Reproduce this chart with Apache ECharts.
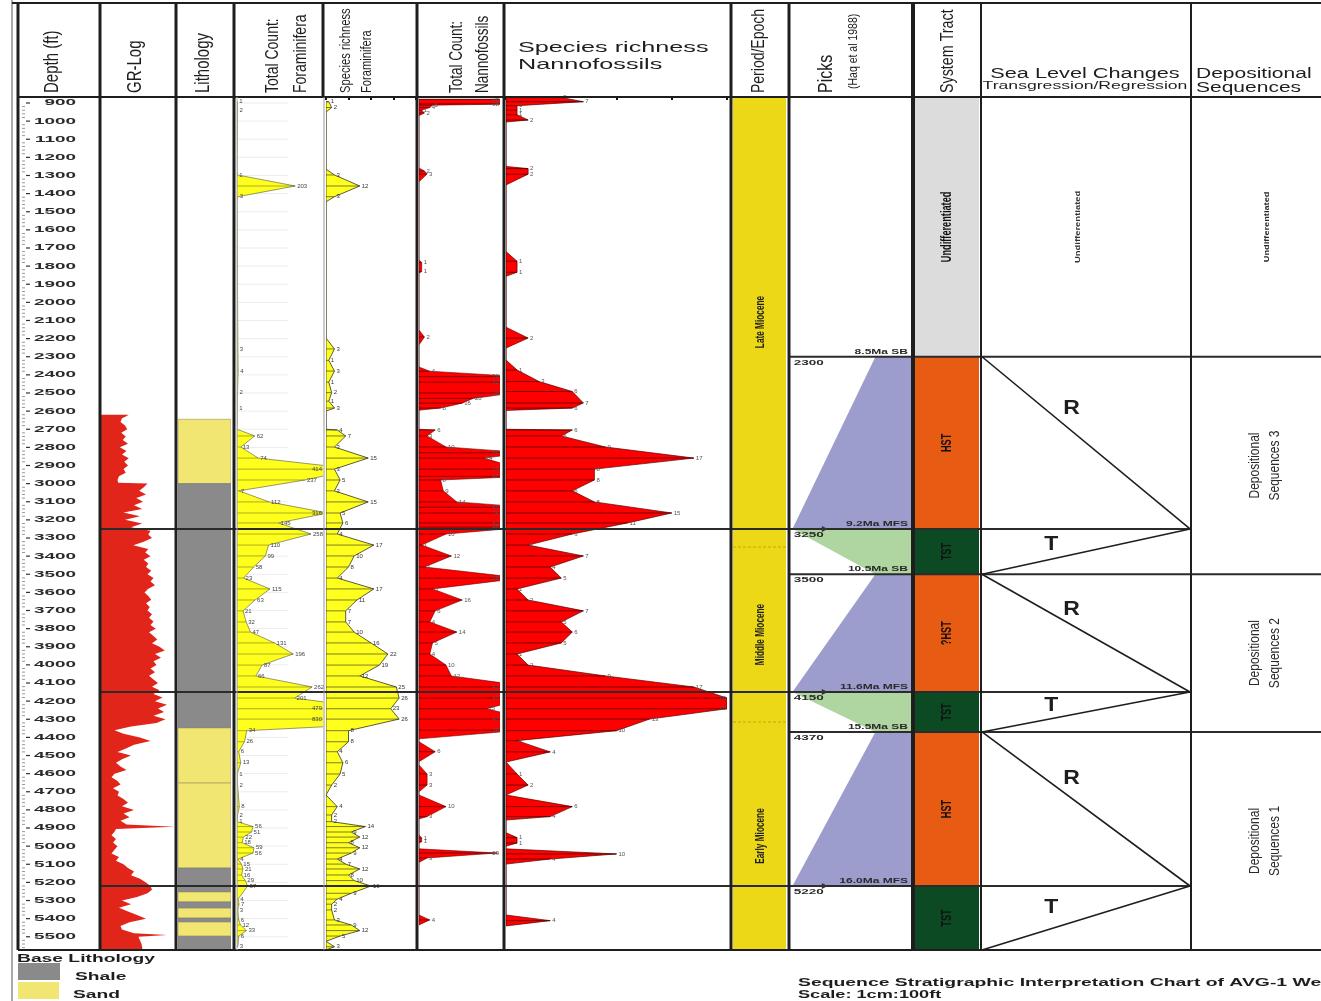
<!DOCTYPE html>
<html>
<head>
<meta charset="utf-8">
<title>Sequence Stratigraphic Interpretation Chart of AVG-1 Well</title>
<script src="https://cdn.jsdelivr.net/npm/echarts@6/dist/echarts.min.js"></script>
<style>
  html, body { margin: 0; padding: 0; background: #ffffff; }
  #chart { width: 1321px; height: 1001px; }
</style>
</head>
<body>
<div id="chart"></div>
<script>
// ---------------- well data (depths in ft) ----------------
const depthTicks = [900, 1000, 1100, 1200, 1300, 1400, 1500, 1600, 1700, 1800, 1900, 2000,
  2100, 2200, 2300, 2400, 2500, 2600, 2700, 2800, 2900, 3000, 3100, 3200, 3300, 3400, 3500,
  3600, 3700, 3800, 3900, 4000, 4100, 4200, 4300, 4400, 4500, 4600, 4700, 4800, 4900, 5000,
  5100, 5200, 5300, 5400, 5500];

// gamma-ray log (relative API units, 0-100 across the track)
const grDepth = [
  2620, 2630, 2640, 2660, 2680, 2700, 2720, 2740, 2760, 2780,
  2800, 2820, 2840, 2860, 2880, 2900, 2920, 2940, 2960, 2980,
  2995, 3000, 3020, 3040, 3060, 3080, 3100, 3120, 3140, 3160,
  3180, 3200, 3220, 3240, 3260, 3280, 3300, 3320, 3340, 3360,
  3380, 3400, 3420, 3440, 3460, 3480, 3500, 3520, 3540, 3560,
  3580, 3600, 3620, 3640, 3660, 3680, 3700, 3720, 3740, 3760,
  3780, 3800, 3820, 3840, 3860, 3880, 3900, 3920, 3940, 3960,
  3980, 4000, 4020, 4040, 4060, 4080, 4100, 4120, 4140, 4160,
  4180, 4200, 4220, 4240, 4260, 4280, 4300, 4320, 4340, 4360,
  4380, 4400, 4420, 4440, 4460, 4480, 4500, 4520, 4540, 4560,
  4580, 4600, 4620, 4640, 4660, 4680, 4700, 4720, 4740, 4760,
  4780, 4800, 4820, 4840, 4860, 4880, 4893, 4905, 4920, 4940,
  4960, 4980, 5000, 5020, 5040, 5060, 5080, 5100, 5120, 5140,
  5160, 5180, 5200, 5220, 5240, 5260, 5280, 5300, 5320, 5340,
  5360, 5380, 5400, 5420, 5440, 5460, 5480, 5490, 5500, 5520,
  5540, 5560, 5573];
const grValue = [
  37, 33, 28, 26, 32, 35, 27, 33, 29, 36,
  25, 34, 28, 37, 31, 36, 30, 33, 24, 22,
  23, 62, 57, 51, 60, 47, 56, 44, 55, 30,
  52, 32, 55, 40, 66, 63, 68, 57, 43, 63,
  59, 66, 57, 63, 60, 67, 62, 70, 66, 72,
  63, 58, 63, 67, 60, 65, 62, 68, 64, 70,
  66, 73, 64, 70, 75, 68, 78, 85, 72, 80,
  70, 74, 66, 72, 64, 70, 76, 68, 78, 70,
  82, 72, 88, 76, 84, 70, 86, 74, 40, 18,
  30, 52, 66, 44, 34, 22, 40, 28, 20, 26,
  34, 18, 14, 22, 26, 16, 24, 22, 30, 36,
  28, 44, 30, 38, 26, 34, 98, 20, 18, 14,
  20, 16, 22, 18, 14, 24, 20, 30, 36, 44,
  40, 52, 60, 66, 68, 62, 48, 28, 40, 24,
  36, 48, 60, 38, 26, 28, 44, 88, 50, 52,
  54, 55, 55];

// lithology intervals
const lithoTop  = [2645, 3000, 4348, 4652, 5121, 5253, 5308, 5342, 5397, 5419, 5497];
const lithoBase = [3000, 4348, 4652, 5121, 5253, 5308, 5342, 5397, 5419, 5497, 5573];
const lithoType = ['Sand', 'Shale', 'Sand', 'Sand', 'Shale', 'Sand', 'Shale', 'Sand', 'Shale', 'Sand', 'Shale'];

// foraminifera total count
const tcfDepth = [893, 939, 1270, 1297, 1358, 1417, 1440, 2257, 2379, 2498, 2583, 2700,
  2737, 2798, 2859, 2920, 2980, 3040, 3101, 3162, 3217, 3278, 3339, 3399, 3460, 3521,
  3581, 3642, 3702, 3763, 3819, 3879, 3940, 4001, 4061, 4122, 4183, 4242, 4299, 4363,
  4424, 4479, 4540, 4602, 4663, 4782, 4828, 4865, 4892, 4922, 4950, 4981, 5009, 5038,
  5071, 5099, 5126, 5159, 5190, 5220, 5292, 5320, 5352, 5407, 5435, 5466, 5496, 5555];
const tcfCount = [1, 2, 0, 1, 203, 3, 0, 3, 4, 2, 1, 0,
  62, 13, 74, 414, 237, 7, 112, 316, 145, 258, 110, 99, 58, 23,
  115, 63, 21, 32, 47, 131, 196, 87, 66, 262, 201, 479, 830, 34,
  26, 6, 13, 1, 2, 8, 2, 1, 56, 51, 22, 18, 59, 56,
  4, 15, 21, 16, 29, 37, 4, 7, 3, 6, 12, 33, 6, 3];

// foraminifera species richness
const srfDepth = [893, 925, 950, 1265, 1297, 1358, 1417, 1445, 2197, 2257, 2320, 2379,
  2440, 2498, 2545, 2583, 2600, 2700, 2704, 2737, 2798, 2859, 2920, 2980, 3040, 3101,
  3162, 3217, 3278, 3339, 3399, 3460, 3521, 3581, 3642, 3702, 3763, 3819, 3879, 3940,
  4001, 4061, 4122, 4183, 4242, 4299, 4363, 4424, 4479, 4540, 4602, 4663, 4718, 4782,
  4828, 4865, 4892, 4922, 4950, 4981, 5009, 5038, 5071, 5099, 5126, 5159, 5190, 5220,
  5260, 5292, 5320, 5352, 5407, 5435, 5466, 5496, 5525, 5555, 5573];
const srfCount = [1, 2, 0, 0, 3, 12, 3, 0, 0, 3, 1, 3,
  1, 2, 1, 3, 0, 0, 4, 7, 3, 15, 3, 5, 3, 15,
  5, 6, 4, 17, 10, 8, 4, 17, 11, 7, 7, 10, 16, 22,
  19, 12, 25, 26, 23, 26, 8, 8, 4, 6, 5, 2, 0, 4,
  2, 2, 14, 9, 12, 8, 12, 9, 4, 7, 12, 8, 10, 16,
  9, 4, 2, 2, 3, 9, 12, 5, 0, 3, 0];

// nannofossil total count
const tcnDepth = [880, 905, 912, 925, 940, 955, 970, 1259, 1275, 1292, 1334, 1766, 1780,
  1830, 1840, 2152, 2191, 2235, 2357, 2380, 2410, 2440, 2500, 2530, 2556, 2583, 2595,
  2700, 2704, 2737, 2798, 2830, 2859, 2920, 2960, 2980, 3040, 3101, 3130, 3162, 3217,
  3240, 3278, 3339, 3399, 3460, 3521, 3581, 3642, 3702, 3763, 3819, 3879, 3940, 4001,
  4061, 4122, 4183, 4242, 4299, 4360, 4408, 4424, 4479, 4534, 4552, 4602, 4663, 4700,
  4718, 4782, 4837, 4850, 4938, 4955, 4975, 4983, 5015, 5038, 5065, 5090, 5380, 5407, 5435];
const tcnCount = [38, 38, 5, 4, 1, 2, 0, 0, 2, 3, 0, 0, 1,
  1, 0, 0, 2, 0, 0, 4, 38, 32, 35, 20, 16, 8, 0,
  0, 6, 3, 10, 40, 24, 38, 40, 8, 9, 14, 40, 36, 42,
  40, 10, 1, 12, 2, 38, 5, 16, 6, 4, 14, 5, 4, 10,
  12, 42, 40, 25, 41, 38, 0, 0, 6, 0, 0, 3, 3, 0,
  0, 10, 3, 0, 0, 1, 1, 0, 0, 29, 3, 0, 0, 4, 0];

// nannofossil species richness
const srnDepth = [870, 893, 915, 939, 965, 994, 1005, 1250, 1262, 1293, 1352, 1720, 1773,
  1834, 1856, 2137, 2197, 2252, 2318, 2373, 2437, 2492, 2555, 2583, 2596, 2700, 2704,
  2737, 2798, 2859, 2920, 2980, 3040, 3101, 3162, 3217, 3278, 3339, 3399, 3460, 3521,
  3581, 3642, 3702, 3763, 3819, 3879, 3940, 4001, 4061, 4122, 4183, 4242, 4299, 4363,
  4418, 4480, 4536, 4602, 4663, 4718, 4782, 4837, 4856, 4926, 4953, 4983, 5000, 5015,
  5043, 5071, 5099, 5380, 5411, 5440];
const srnCount = [5, 7, 1, 1, 1, 2, 0, 0, 2, 2, 0, 0, 1,
  1, 0, 0, 2, 0, 0, 1, 3, 6, 7, 6, 0, 0, 6,
  5, 9, 17, 8, 8, 6, 8, 15, 11, 6, 2, 7, 4, 5,
  1, 2, 7, 5, 6, 5, 1, 2, 9, 17, 20, 20, 13, 10,
  1, 4, 0, 1, 2, 0, 6, 4, 0, 0, 1, 1, 0, 0,
  10, 4, 0, 0, 4, 0];

// chronostratigraphy
const epochName = ['Late Miocene', 'Middle Miocene', 'Early Miocene'];
const epochTop  = [867, 3350, 4315];
const epochBase = [3350, 4315, 5573];

// sequence boundaries and maximum flooding surfaces (Haq et al 1988)
const pickDepth = [2300, 3250, 3500, 4150, 4370, 5220];
const pickName  = ['8.5Ma SB', '9.2Ma MFS', '10.5Ma SB', '11.6Ma MFS', '15.5Ma SB', '16.0Ma MFS'];
const pickType  = ['SB', 'MFS', 'SB', 'MFS', 'SB', 'MFS'];

// systems tracts
const tractName = ['Undifferentiated', 'HST', 'TST', '?HST', 'TST', 'HST', 'TST'];
const tractTop  = [867, 2300, 3250, 3500, 4150, 4370, 5220];
const tractBase = [2300, 3250, 3500, 4150, 4370, 5220, 5573];

// relative sea level: 0 = landward edge, 1 = basinward turning point
const seaDepth = [2300, 3250, 3500, 4150, 4370, 5220, 5573];
const seaSide  = [0, 1, 0, 1, 0, 1, 0];

// depositional sequences
const seqName = ['Undifferentiated', 'Depositional\nSequences 3', 'Depositional\nSequences 2', 'Depositional\nSequences 1'];
const seqTop  = [867, 2300, 3500, 4370];
const seqBase = [2300, 3500, 4370, 5573];

// ---------------- layout ----------------
const TOP_DEPTH = 867, BASE_DEPTH = 5573;
const SANS = '"Liberation Sans", Arial, Helvetica, sans-serif';
const INK = '#1e1e1e';

const tracks = {
  depth: { left: 18,   width: 82,  max: 1 },
  gr:    { left: 101,  width: 75,  max: 100 },
  litho: { left: 178,  width: 53,  max: 1 },
  tcf:   { left: 237,  width: 86,  max: 300 },
  srf:   { left: 326,  width: 90,  max: 32 },
  tcn:   { left: 419,  width: 81,  max: 30 },
  srn:   { left: 506,  width: 221, max: 20 },
  epoch: { left: 733,  width: 53,  max: 1 },
  picks: { left: 790,  width: 122, max: 1 },
  tract: { left: 915,  width: 64,  max: 1 },
  sea:   { left: 982,  width: 208, max: 1 },
  seq:   { left: 1191, width: 130, max: 1 },
  page:  { left: 0,    width: 1321, max: 1321 }
};
const names = Object.keys(tracks);
const gi = n => names.indexOf(n);

const grid = names.map(n => ({ left: tracks[n].left, width: tracks[n].width, top: 97, height: 853, show: false }));
const xAxis = names.map((n, i) => ({ gridIndex: i, type: 'value', min: 0, max: tracks[n].max, show: false }));
const yAxis = names.map((n, i) => ({ gridIndex: i, type: 'value', min: TOP_DEPTH, max: BASE_DEPTH, inverse: true, show: false }));

// scale ticks across the top of the species-richness tracks
function topTicks(name, interval) {
  const i = gi(name);
  xAxis[i] = {
    gridIndex: i, type: 'value', min: 0, max: tracks[name].max, interval: interval,
    position: 'top', show: true,
    axisLine: { show: false },
    axisTick: { show: true, inside: true, length: 3, lineStyle: { color: '#111', width: 2 } },
    axisLabel: { show: false }, splitLine: { show: false }
  };
}
topTicks('srf', 8);
topTicks('srn', 5);

function cs(track, data, renderItem, extra) {
  const i = gi(track);
  return Object.assign({
    type: 'custom', xAxisIndex: i, yAxisIndex: i, data: data, renderItem: renderItem,
    silent: true, animation: false, clip: true, z: 2
  }, extra || {});
}

const series = [];

// depth scale
series.push(cs('depth', depthTicks.map(d => [0, d]), (p, api) => {
  const d = api.value(1);
  const c = api.coord([0, d]);
  const x0 = p.coordSys.x;
  const ch = [
    { type: 'line', shape: { x1: x0 + 8, y1: c[1], x2: x0 + 12, y2: c[1] }, style: { stroke: '#333', lineWidth: 1.2 } },
    { type: 'text', x: x0 + 58, y: c[1], scaleX: 2.1,
      style: { text: String(d), font: 'bold 9px ' + SANS, fill: '#2a2a2a', align: 'right', verticalAlign: 'middle' } }
  ];
  for (let k = 1; k < 5; k++) {
    const dd = d + 20 * k;
    if (dd >= BASE_DEPTH) break;
    const m = api.coord([0, dd]);
    ch.push({ type: 'line', shape: { x1: x0 + 4, y1: m[1], x2: x0 + 7, y2: m[1] }, style: { stroke: '#999', lineWidth: 1 } });
  }
  return { type: 'group', children: ch };
}, { clip: false }));

// gamma-ray log
series.push(cs('gr', [[0, grDepth[0]]], (p, api) => {
  const pts = [api.coord([0, grDepth[0]])];
  grDepth.forEach((d, i) => pts.push(api.coord([grValue[i], d])));
  pts.push(api.coord([0, grDepth[grDepth.length - 1]]));
  return { type: 'polygon', shape: { points: pts }, style: { fill: '#e1251b' } };
}));

// lithology column
series.push(cs('litho', lithoTop.map(t => [0, t]), (p, api) => {
  const i = p.dataIndex;
  const a = api.coord([0, lithoTop[i]]), b = api.coord([1, lithoBase[i]]);
  const shale = lithoType[i] === 'Shale';
  return { type: 'rect', shape: { x: a[0], y: a[1], width: b[0] - a[0], height: b[1] - a[1] },
    style: { fill: shale ? '#8a8a8a' : '#f2e672', stroke: shale ? '#7a7a7a' : '#9a9060', lineWidth: 0.6 } };
}));

// faint depth grid in the foraminifera count track
series.push(cs('tcf', depthTicks.map(d => [0, d]), (p, api) => {
  const a = api.coord([0, api.value(1)]), b = api.coord([180, api.value(1)]);
  return { type: 'line', shape: { x1: a[0], y1: a[1], x2: b[0], y2: b[1] }, style: { stroke: '#ececec', lineWidth: 1 } };
}, { z: 1 }));

// filled biostratigraphic profiles with sample hatching and count labels
function profile(track, depths, values, st) {
  const fill = cs(track, [[0, depths[0]]], (p, api) => {
    const pts = [api.coord([0, depths[0]])];
    depths.forEach((d, i) => pts.push(api.coord([values[i], d])));
    pts.push(api.coord([0, depths[depths.length - 1]]));
    return { type: 'polygon', shape: { points: pts }, style: { fill: st.fill, stroke: st.edge, lineWidth: st.edgeWidth } };
  });
  const hatch = cs(track, depths.map((d, i) => [values[i], d]), (p, api) => {
    const v = api.value(0), d = api.value(1);
    if (!(v > 0)) return { type: 'group', children: [] };
    const a = api.coord([0, d]), b = api.coord([v, d]);
    const right = p.coordSys.x + p.coordSys.width;
    const over = b[0] > right - 4;
    const ch = [{ type: 'line', shape: { x1: a[0], y1: a[1], x2: Math.min(b[0], right), y2: b[1] },
      style: { stroke: st.hatch, lineWidth: 0.8 } }];
    ch.push({ type: 'text', x: over ? right - 1 : b[0] + 2, y: b[1],
      style: { text: String(v), font: '6px ' + SANS, fill: st.label, align: over ? 'right' : 'left', verticalAlign: 'middle' } });
    return { type: 'group', children: ch };
  }, { clip: false, z: 3 });
  return [fill, hatch];
}
series.push(...profile('tcf', tcfDepth, tcfCount, { fill: '#ffff1e', edge: '#6d6d45', edgeWidth: 0.7, hatch: 'rgba(70,70,30,0.55)', label: '#444' }));
series.push(...profile('srf', srfDepth, srfCount, { fill: '#ffff1e', edge: '#4a4a30', edgeWidth: 0.9, hatch: 'rgba(50,50,30,0.8)', label: '#333' }));
series.push(...profile('tcn', tcnDepth, tcnCount, { fill: '#ff0000', edge: '#6a0000', edgeWidth: 0.6, hatch: 'rgba(70,0,0,0.8)', label: '#555' }));
series.push(...profile('srn', srnDepth, srnCount, { fill: '#ff0000', edge: '#5a0000', edgeWidth: 0.7, hatch: 'rgba(60,0,0,0.85)', label: '#555' }));

// period / epoch column
series.push(cs('epoch', epochTop.map(t => [0, t]), (p, api) => {
  const i = p.dataIndex;
  const a = api.coord([0, epochTop[i]]), b = api.coord([1, epochBase[i]]);
  const mid = api.coord([0.5, (epochTop[i] + epochBase[i]) / 2]);
  const ch = [
    { type: 'rect', shape: { x: a[0], y: a[1], width: b[0] - a[0], height: b[1] - a[1] }, style: { fill: '#ecd816' } },
    { type: 'text', x: mid[0] + 1, y: mid[1], rotation: Math.PI / 2, scaleX: 0.75, scaleY: 1.2,
      style: { text: epochName[i], font: 'bold 11px ' + SANS, fill: INK, align: 'center', verticalAlign: 'middle' } }
  ];
  if (i > 0) ch.push({ type: 'line', shape: { x1: a[0], y1: a[1], x2: b[0], y2: a[1] },
    style: { stroke: '#b3a200', lineWidth: 0.8, lineDash: [3, 2] } });
  return { type: 'group', children: ch };
}));

// picks: highstand wedges (blue) and transgressive wedges (green)
series.push(cs('picks', pickDepth.slice(0, -1).map(d => [0, d]), (p, api) => {
  const i = p.dataIndex;
  const top = pickDepth[i], base = pickDepth[i + 1];
  const shape = pickType[i] === 'SB'
    ? [[0.7, top], [1, top], [1, base], [0.02, base]]
    : [[0.02, top], [1, top], [1, base], [0.7, base]];
  return { type: 'polygon', shape: { points: shape.map(q => api.coord(q)) },
    style: { fill: pickType[i] === 'SB' ? '#9c9dcc' : '#afd5a1' } };
}));

// horizontal surfaces running across the chart
series.push(cs('page', pickDepth.map(d => [0, d]), (p, api) => {
  const i = p.dataIndex;
  const span = pickType[i] === 'SB' ? [790, 1321] : [100, 1190];
  const a = api.coord([span[0], pickDepth[i]]), b = api.coord([span[1], pickDepth[i]]);
  return { type: 'line', shape: { x1: a[0], y1: a[1], x2: b[0], y2: b[1] }, style: { stroke: '#2b2b2b', lineWidth: 2 } };
}, { z: 4, clip: false }));

// pick annotations
series.push(cs('picks', pickDepth.map(d => [0, d]), (p, api) => {
  const i = p.dataIndex, d = pickDepth[i];
  const r = api.coord([0.967, d]), l = api.coord([0.03, d]);
  const ch = [
    { type: 'text', x: r[0], y: r[1] - 5, scaleX: 1.6,
      style: { text: pickName[i], font: 'bold 7.5px ' + SANS, fill: '#2a2a2a', align: 'right', verticalAlign: 'middle' } },
    { type: 'text', x: l[0], y: l[1] + 6, scaleX: 1.8,
      style: { text: String(d), font: 'bold 7.5px ' + SANS, fill: '#2a2a2a', align: 'left', verticalAlign: 'middle' } }
  ];
  if (pickType[i] === 'MFS') {
    const s = api.coord([0.02, d]), e = api.coord([0.31, d]);
    ch.push({ type: 'line', shape: { x1: s[0], y1: s[1], x2: e[0] - 4, y2: e[1] }, style: { stroke: '#333', lineWidth: 1.2 } });
    ch.push({ type: 'polygon', shape: { points: [[e[0], e[1]], [e[0] - 6, e[1] - 3], [e[0] - 6, e[1] + 3]] }, style: { fill: '#333' } });
  }
  return { type: 'group', children: ch };
}, { z: 5, clip: false }));

// systems tracts
const tractColor = { 'Undifferentiated': '#dcdcdc', 'HST': '#e85b12', '?HST': '#e85b12', 'TST': '#0b4a22' };
series.push(cs('tract', tractTop.map(t => [0, t]), (p, api) => {
  const i = p.dataIndex;
  const a = api.coord([0, tractTop[i]]), b = api.coord([1, tractBase[i]]);
  const mid = api.coord([0.5, (tractTop[i] + tractBase[i]) / 2]);
  return { type: 'group', children: [
    { type: 'rect', shape: { x: a[0], y: a[1], width: b[0] - a[0], height: b[1] - a[1] }, style: { fill: tractColor[tractName[i]] } },
    { type: 'text', x: mid[0], y: mid[1], rotation: Math.PI / 2, scaleX: 0.8, scaleY: 1.2,
      style: { text: tractName[i], font: 'bold 11.5px ' + SANS, fill: '#111', align: 'center', verticalAlign: 'middle' } }
  ] };
}));

// relative sea-level legs with regression / transgression labels
series.push(cs('sea', seaDepth.slice(0, -1).map(d => [0, d]), (p, api) => {
  const i = p.dataIndex, d0 = seaDepth[i], d1 = seaDepth[i + 1];
  const a = api.coord([seaSide[i], d0]), b = api.coord([seaSide[i + 1], d1]);
  const regression = seaSide[i] === 0;
  const c = regression ? api.coord([0.43, d0 + 0.3 * (d1 - d0)]) : api.coord([1 / 3, d0 + (d1 - d0) / 3]);
  return { type: 'group', children: [
    { type: 'line', shape: { x1: a[0], y1: a[1], x2: b[0], y2: b[1] }, style: { stroke: INK, lineWidth: 1.6 } },
    { type: 'text', x: c[0], y: c[1], scaleX: 1.15,
      style: { text: regression ? 'R' : 'T', font: 'bold 20px ' + SANS, fill: INK, align: 'center', verticalAlign: 'middle' } }
  ] };
}, { clip: false, z: 4 }));
series.push(cs('sea', [[0, TOP_DEPTH]], (p, api) => {
  const c = api.coord([0.46, (TOP_DEPTH + seaDepth[0]) / 2]);
  return { type: 'text', x: c[0], y: c[1], rotation: Math.PI / 2, scaleX: 1.18,
    style: { text: 'Undifferentiated', font: 'bold 8px ' + SANS, fill: '#333', align: 'center', verticalAlign: 'middle' } };
}));

// depositional sequences
series.push(cs('seq', seqTop.map(t => [0, t]), (p, api) => {
  const i = p.dataIndex;
  const first = i === 0;
  const c = api.coord([first ? 0.58 : 0.57, (seqTop[i] + seqBase[i]) / 2]);
  return { type: 'text', x: c[0], y: c[1], rotation: Math.PI / 2, scaleX: first ? 1.15 : 1, scaleY: first ? 1 : 1.2,
    style: { text: seqName[i], font: (first ? 'bold 8px ' : '12px ') + SANS, fill: '#2a2a2a',
      align: 'center', verticalAlign: 'middle', lineHeight: 17 } };
}));

// ---------------- frame, headers, legend ----------------
const g = [];
function vline(x, y1, y2, w, c) { g.push({ type: 'line', z: 100, shape: { x1: x, y1: y1, x2: x, y2: y2 }, style: { stroke: c || INK, lineWidth: w } }); }
function hline(y, x1, x2, w, c) { g.push({ type: 'line', z: 100, shape: { x1: x1, y1: y, x2: x2, y2: y }, style: { stroke: c || INK, lineWidth: w } }); }
function vtext(text, x, y, size) {
  g.push({ type: 'text', z: 101, x: x, y: y, rotation: Math.PI / 2, scaleY: 1.3,
    style: { text: text, font: size + 'px ' + SANS, fill: INK, align: 'left', verticalAlign: 'middle' } });
}
function htext(text, x, y, font, sx, align) {
  g.push({ type: 'text', z: 101, x: x, y: y, scaleX: sx,
    style: { text: text, font: font, fill: INK, align: align, verticalAlign: 'middle' } });
}

vline(12, 0, 1001, 1, '#555');
hline(3, 12, 1321, 2);
hline(97, 18, 1321, 2);
hline(950, 18, 1321, 2);
[[18, 3], [100, 3], [176, 3], [234, 3], [417, 3], [504, 3], [731, 3], [789, 3], [913, 4], [981, 2], [1191, 2]]
  .forEach(b => vline(b[0], 3, 950, b[1]));
vline(323, 3, 97, 3);
vline(324, 97, 950, 1, '#9a9a9a');
vline(237, 97, 950, 1, '#b5b5b5');

vtext('Depth (ft)', 53, 93, 15);
vtext('GR-Log', 136, 93, 15);
vtext('Lithology', 204, 93, 15);
vtext('Total Count:', 273, 93, 14);
vtext('Foraminifera', 301, 93, 14);
vtext('Species richness', 346, 93, 11.2);
vtext('Foraminifera', 367, 93, 11.2);
vtext('Total Count:', 457, 93, 13.5);
vtext('Nannofossils', 483, 93, 13.5);
vtext('Period/Epoch', 759, 93, 14);
vtext('Picks', 826, 93, 16);
vtext('(Haq et al 1988)', 853, 89, 10.5);
vtext('System Tract', 948, 93, 14.3);

htext('Species richness', 518, 48, '15px ' + SANS, 1.68, 'left');
htext('Nannofossils', 518, 65, '15px ' + SANS, 1.68, 'left');
htext('Sea Level Changes', 1085, 74, '14px ' + SANS, 1.55, 'center');
htext('Transgression/Regression', 1085, 86, '11px ' + SANS, 1.6, 'center');
htext('Depositional', 1196, 74, '14px ' + SANS, 1.5, 'left');
htext('Sequences', 1196, 88, '14px ' + SANS, 1.5, 'left');

// lithology legend
htext('Base Lithology', 17, 959, 'bold 11px ' + SANS, 1.75, 'left');
g.push({ type: 'rect', z: 102, shape: { x: 18, y: 963, width: 42, height: 17 }, style: { fill: '#8a8a8a' } });
g.push({ type: 'rect', z: 102, shape: { x: 18, y: 982, width: 41, height: 17 }, style: { fill: '#f2e672' } });
htext('Shale', 75, 977, 'bold 11px ' + SANS, 1.75, 'left');
htext('Sand', 73, 995, 'bold 11px ' + SANS, 1.75, 'left');

// chart title
htext('Sequence Stratigraphic Interpretation Chart of AVG-1 Well', 798, 983, 'bold 11px ' + SANS, 1.76, 'left');
htext('Scale: 1cm:100ft', 798, 995, 'bold 11px ' + SANS, 1.65, 'left');

const chart = echarts.init(document.getElementById('chart'), null, { renderer: 'canvas' });
chart.setOption({
  animation: false,
  backgroundColor: '#ffffff',
  grid: grid,
  xAxis: xAxis,
  yAxis: yAxis,
  series: series,
  graphic: { elements: g }
});
</script>
</body>
</html>
